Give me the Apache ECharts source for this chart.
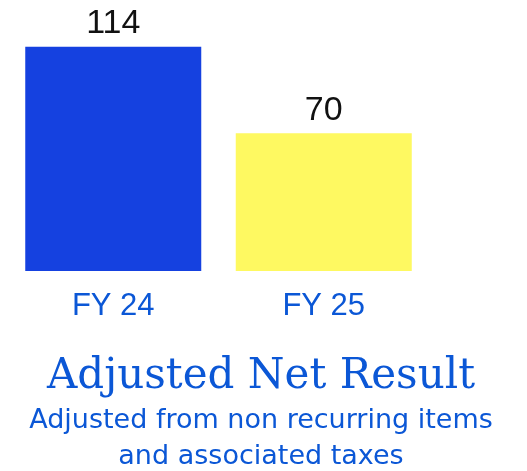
<!DOCTYPE html>
<html>
<head>
<meta charset="utf-8">
<script src="https://cdn.jsdelivr.net/npm/echarts@6/dist/echarts.min.js"></script>
<style>
  html, body { margin: 0; padding: 0; background: #fff; }
  #grafica { width: 527px; height: 471px; }
</style>
</head>
<body>
<div id="grafica"></div>
<script>
var categorias = ["FY 24", "FY 25"];
var valores = [114, 70];
var coloresBarras = ["#1541E0", "#FEF961"];

document.addEventListener("DOMContentLoaded", function () {
  cargarGrafica();
});

function cargarGrafica() {
  var chart = echarts.init(document.getElementById("grafica"));
  var azulTexto = "#0B57D6";
  var option = {
    animation: false,
    title: [
      {
        text: "Adjusted Net Result",
        left: 256,
        top: 351,
        textAlign: "center",
        textStyle: {
          fontFamily: "DejaVu Serif",
          fontSize: 42,
          fontWeight: "normal",
          color: azulTexto,
        },
      },
      {
        text: "Adjusted from non recurring items\nand associated taxes",
        left: 256,
        top: 398,
        textAlign: "center",
        textStyle: {
          fontFamily: "DejaVu Sans",
          fontSize: 27,
          fontWeight: "normal",
          lineHeight: 36,
          color: azulTexto,
        },
      },
    ],
    grid: { left: 8, right: 98, top: 35, bottom: 200 },
    xAxis: {
      type: "category",
      data: categorias,
      axisLine: { show: false },
      axisTick: { show: false },
      axisLabel: {
        fontFamily: "Liberation Sans",
        fontSize: 31,
        color: azulTexto,
        margin: 20,
      },
    },
    yAxis: {
      type: "value",
      min: 0,
      max: 120,
      show: false,
      splitLine: { show: false },
    },
    series: [
      {
        type: "bar",
        barWidth: 176,
        data: valores.map(function (v, i) {
          return { value: v, itemStyle: { color: coloresBarras[i] } };
        }),
        label: {
          show: true,
          position: "top",
          distance: 6,
          fontFamily: "Liberation Sans",
          fontSize: 34,
          color: "#111",
        },
      },
    ],
  };
  chart.setOption(option);
}
</script>
</body>
</html>
